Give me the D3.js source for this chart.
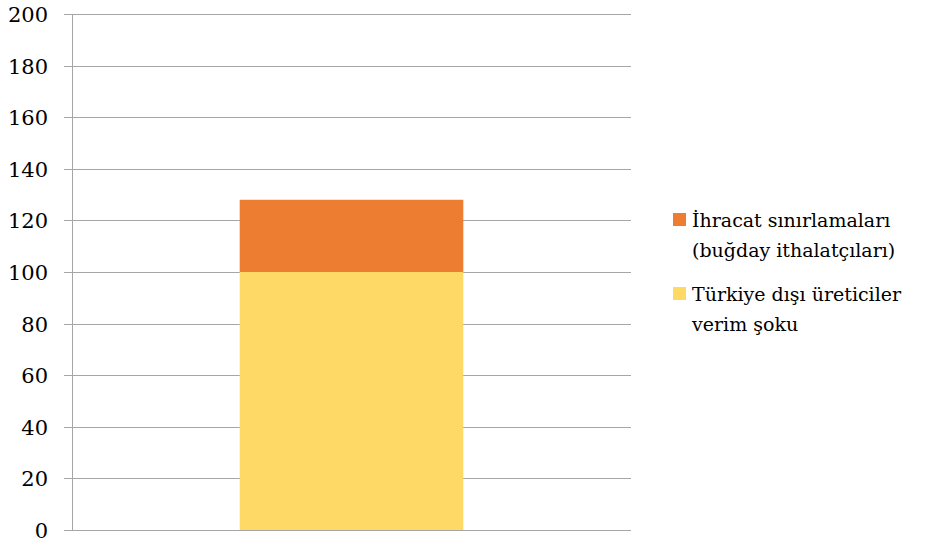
<!DOCTYPE html>
<html>
<head>
<meta charset="utf-8">
<script src="https://cdn.jsdelivr.net/npm/d3@7"></script>
<style>
  html, body { margin: 0; padding: 0; background: #fff; }
  svg { display: block; }
</style>
</head>
<body>
<svg id="chart" width="926" height="546"></svg>
<script>
// Stacked bar: contributions by shock
const categories = [""];
const yieldShock = [100];
const exportLimits = [28];
const seriesColors = ["#FFD966", "#ED7D31"];
const yTicks = [0, 20, 40, 60, 80, 100, 120, 140, 160, 180, 200];
const legendLines = [
  ["İhracat sınırlamaları", "(buğday ithalatçıları)"],
  ["Türkiye dışı üreticiler", "verim şoku"]
];

const FONT = "\"DejaVu Serif\", serif";
const svg = d3.select("#chart");
const margin = { left: 72, right: 295, top: 14, bottom: 16 };
const W = 926, H = 546;
const x0 = margin.left, x1 = W - margin.right;
const yTop = margin.top, yBot = H - margin.bottom;

const x = d3.scaleBand().domain(categories).range([x0, x1]).paddingInner(0.6).paddingOuter(0.3);
const y = d3.scaleLinear().domain([0, 200]).range([yBot, yTop]);

const rows = categories.map((c, i) => ({ cat: c, a: yieldShock[i], b: exportLimits[i] }));
const stacked = d3.stack().keys(["a", "b"])(rows);

// Horizontal grid lines, with a short tick stub left of the axis
svg.append("g").selectAll("line").data(yTicks).join("line")
  .attr("x1", x0 - 8).attr("x2", x1)
  .attr("y1", d => Math.round(y(d)) + 0.5).attr("y2", d => Math.round(y(d)) + 0.5)
  .attr("stroke", "#a6a6a6").attr("stroke-width", 1);

// Stacked bar segments
svg.append("g").selectAll("g").data(stacked).join("g")
  .attr("fill", (d, i) => seriesColors[i])
  .selectAll("rect").data(d => d).join("rect")
  .attr("x", d => x(d.data.cat))
  .attr("width", x.bandwidth())
  .attr("y", d => y(d[1]))
  .attr("height", d => y(d[0]) - y(d[1]));

// Vertical axis line
svg.append("line")
  .attr("x1", x0 + 0.5).attr("x2", x0 + 0.5)
  .attr("y1", yTop).attr("y2", yBot + 0.5)
  .attr("stroke", "#a6a6a6").attr("stroke-width", 1);

// Tick labels
yTicks.forEach(v => {
  svg.append("text")
    .attr("x", 48)
    .attr("y", y(v) + 8)
    .attr("text-anchor", "end")
    .style("font-family", FONT)
    .attr("font-size", 21)
    .attr("fill", "#000")
    .text(v);
});

// Legend (top entry = top segment)
const legendColors = [seriesColors[1], seriesColors[0]];
const legendTop = [213, 287];
legendLines.forEach((lines, i) => {
  svg.append("rect")
    .attr("x", 673).attr("y", legendTop[i])
    .attr("width", 13).attr("height", 13)
    .attr("fill", legendColors[i]);
  lines.forEach((t, j) => {
    svg.append("text")
      .attr("x", 692)
      .attr("y", legendTop[i] + 14 + j * 30)
      .style("font-family", FONT)
      .attr("font-size", 19)
      .attr("fill", "#000")
      .text(t);
  });
});
</script>
</body>
</html>
